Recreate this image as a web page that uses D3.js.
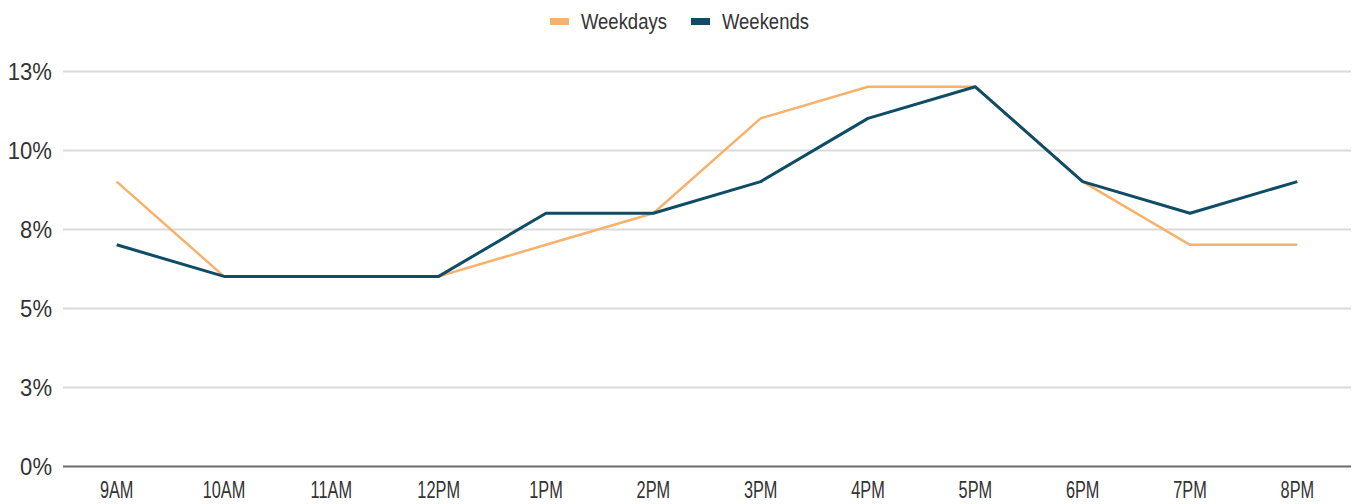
<!DOCTYPE html>
<html><head><meta charset="utf-8">
<script src="https://cdn.jsdelivr.net/npm/d3@7"></script>
<style>
html,body{margin:0;padding:0;background:#fff;}
svg{display:block;font-family:"Liberation Sans",Arial,sans-serif;}
</style></head>
<body><svg id="c" width="1354" height="504"></svg>
<script>
const categories = ["9AM","10AM","11AM","12PM","1PM","2PM","3PM","4PM","5PM","6PM","7PM","8PM"];
const weekdays = [9,6,6,6,7,8,11,12,12,9,7,7];
const weekends = [7,6,6,6,8,8,9,11,12,9,8,9];
const yTicks = [0,2.5,5,7.5,10,12.5];
const yTickLabels = ["0%","3%","5%","8%","10%","13%"];
const seriesNames = ["Weekdays","Weekends"];
const seriesColors = ["#f6b26b","#0f4c66"];

const svg = d3.select("#c");
const plotL = 63, plotR = 1351, plotT = 71, plotB = 466;
const x = d3.scalePoint().domain(categories).range([plotL, plotR]).padding(0.5);
const y = d3.scaleLinear().domain([0, 12.5]).range([plotB, plotT]);

// gridlines + y labels
const yAxis = d3.axisLeft(y).tickValues(yTicks).tickSize(-(plotR-plotL)).tickFormat((d,i)=>yTickLabels[i]);
const gy = svg.append("g").attr("transform",`translate(${plotL},0)`).call(yAxis);
gy.select(".domain").remove();
gy.selectAll(".tick line").attr("stroke", d => d===0 ? "#6b6b6b" : "#dadada").attr("stroke-width", 2);
const sxY = 0.92;
gy.selectAll(".tick text")
  .attr("fill","#333").attr("font-size","24px")
  .attr("text-anchor","end").attr("dy","0.35em")
  .attr("x", -11/sxY)
  .attr("transform",`scale(${sxY},1)`);

// x labels
const xAxis = d3.axisBottom(x).tickSize(0);
const gx = svg.append("g").attr("transform",`translate(0,${plotB})`).call(xAxis);
gx.select(".domain").remove();
const sxX = 0.71;
gx.selectAll(".tick").each(function(d){
  d3.select(this).attr("transform",`translate(${x(d)},0) scale(${sxX},1)`);
});
gx.selectAll(".tick text").attr("fill","#333").attr("font-size","23px")
  .attr("y", 32).attr("dy", 0).attr("text-anchor","middle");

// lines
const line = d3.line().x((d,i)=>x(categories[i])).y(d=>y(d));
svg.append("path").datum(weekdays).attr("d",line).attr("fill","none")
  .attr("stroke",seriesColors[0]).attr("stroke-width",2.5).attr("stroke-linejoin","round");
svg.append("path").datum(weekends).attr("d",line).attr("fill","none")
  .attr("stroke",seriesColors[1]).attr("stroke-width",3).attr("stroke-linejoin","round");

// legend
const legendX = [550, 691];
const sxL = 0.84;
seriesNames.forEach((n,i)=>{
  const g = svg.append("g").attr("transform",`translate(${legendX[i]},0)`);
  g.append("rect").attr("x",0).attr("y",18).attr("width",19).attr("height",7).attr("fill",seriesColors[i]);
  g.append("text").attr("transform",`translate(31,29) scale(${sxL},1)`)
    .attr("font-size","22px").attr("fill","#333").text(n);
});
</script></body></html>
